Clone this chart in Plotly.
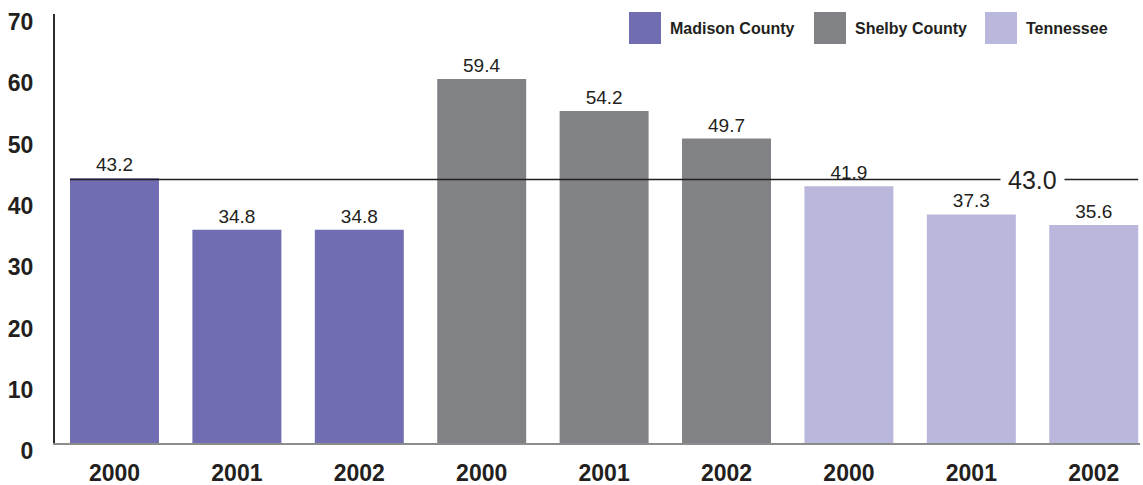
import plotly.graph_objects as go

# ---- data ----
years = ["2000", "2001", "2002"]
groups = ["Madison County", "Shelby County", "Tennessee"]
madison = [43.2, 34.8, 34.8]
shelby = [59.4, 54.2, 49.7]
tennessee = [41.9, 37.3, 35.6]
state_avg = 43.0
y_ticks = [0, 10, 20, 30, 40, 50, 60, 70]

colors = ["#716db2", "#818285", "#b9b7db"]
series = [madison, shelby, tennessee]

W, H = 1143, 485
ML, MR, MT, MB = 55, 3, 14, 42
BAR_W = 0.727
TXT = "#231f20"
FONT = "Liberation Sans"

fig = go.Figure()
xpos_all = []
ticktext = []
for gi, (name, vals, col) in enumerate(zip(groups, series, colors)):
    xs = [gi * len(years) + k for k in range(len(vals))]
    xpos_all += xs
    ticktext += years
    fig.add_trace(go.Bar(
        x=xs, y=vals, name=name, width=BAR_W,
        marker=dict(color=col, line=dict(width=0)),
        text=[f"{v:.1f}" for v in vals], textposition="outside",
        textfont=dict(family=FONT, size=19, color=TXT),
        cliponaxis=False, showlegend=False, hoverinfo="skip",
    ))

n = len(xpos_all)
# reference line
fig.add_shape(type="line", xref="x", yref="y",
              x0=xpos_all[0] - BAR_W / 2, x1=xpos_all[-1] + BAR_W / 2,
              y0=state_avg, y1=state_avg,
              line=dict(color="#231f20", width=1.5), layer="above")
fig.add_annotation(x=xpos_all[-2] + 0.5, y=state_avg, xref="x", yref="y",
                   text=f"{state_avg:.1f}", showarrow=False,
                   font=dict(family=FONT, size=25, color=TXT),
                   bgcolor="white", borderpad=7)

# custom legend
pw = W - ML - MR
ph = H - MT - MB
def px2x(p):
    return (p - ML) / pw
def px2y(p):
    return (H - MB - p) / ph

legend_sw = [629, 814, 985]
for name, col, sx in zip(groups, colors, legend_sw):
    fig.add_shape(type="rect", xref="paper", yref="paper",
                  x0=px2x(sx), x1=px2x(sx + 32), y0=px2y(44), y1=px2y(12),
                  fillcolor=col, line=dict(width=0))
    fig.add_annotation(xref="paper", yref="paper", x=px2x(sx + 39), y=px2y(28),
                       xanchor="left", yanchor="middle", text=name, showarrow=False,
                       font=dict(family=FONT, size=16, color=TXT, weight="bold"))

fig.update_layout(
    width=W, height=H,
    margin=dict(l=ML, r=MR, t=MT, b=MB),
    plot_bgcolor="white", paper_bgcolor="white",
    barmode="overlay",
    showlegend=False,
    hovermode=False,
    xaxis=dict(
        range=[-0.486, n - 1 + 0.378],
        tickvals=xpos_all, ticktext=ticktext, automargin=False,
        showgrid=False, zeroline=False, fixedrange=True,
        showline=True, linecolor="#8c8c8c", linewidth=1.5,
        ticks="", ticklabelstandoff=9,
        tickfont=dict(family=FONT, size=23, color=TXT, weight="bold"),
    ),
    yaxis=dict(
        range=[0, 70.02], tickvals=y_ticks, automargin=False,
        showgrid=False, zeroline=False, fixedrange=True,
        showline=True, linecolor="#2b2b2b", linewidth=2,
        ticks="", ticklabelstandoff=15, ticklabelshift=8,
        tickfont=dict(family=FONT, size=23, color=TXT, weight="bold"),
    ),
)

fig.write_html("out.html", config={"displayModeBar": False, "staticPlot": True},
               post_script="document.body.style.margin='0';document.body.style.overflow='hidden';")
